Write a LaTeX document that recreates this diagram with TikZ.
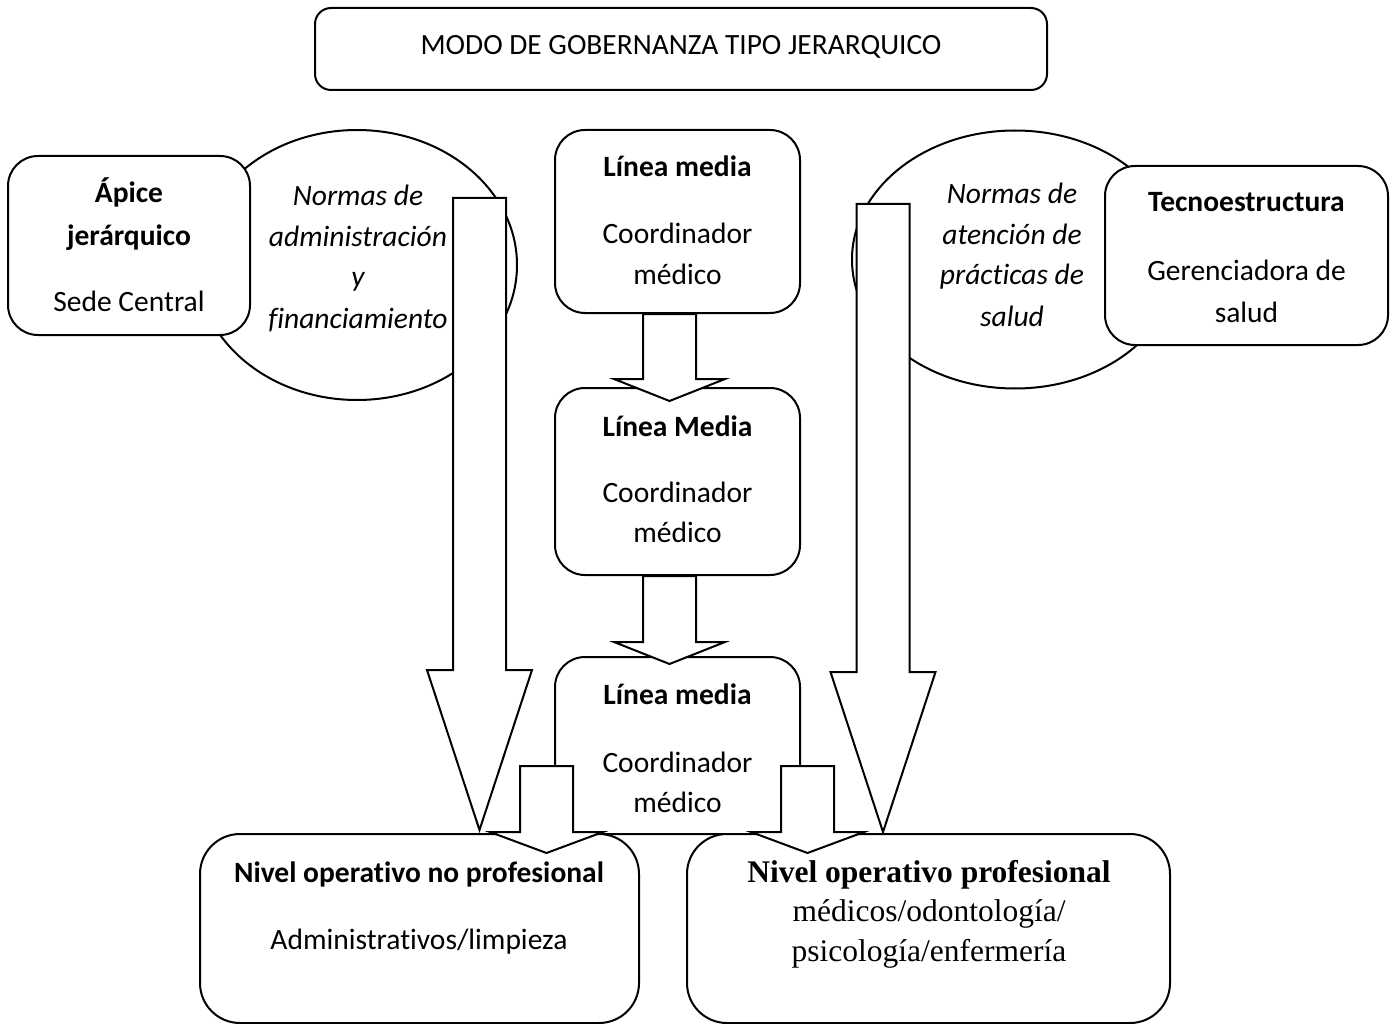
\documentclass[tikz,border=0pt]{standalone}
\usepackage{fontspec}
\setmainfont{Carlito}[Ligatures=CommonOff]
\newfontfamily\bodyserif{Liberation Serif}
\usetikzlibrary{shapes.geometric,calc}

% hollow block arrow pointing down:
% #1 top centre of the shaft, #2 shaft length, #3 head length,
% #4 half shaft width, #5 half head width
\newcommand\downblock[5]{%
  \path[blockarrow] ($(#1)+(-#4,0)$) -- ++(0,#2) -- ++({#4-#5},0)
    -- ++(#5,#3) -- ++(#5,-#3) -- ++({#4-#5},0) -- ++(0,-#2) -- cycle;}

\begin{document}
\begin{tikzpicture}[x=1pt,y=-1pt,line width=2pt,
  box/.style={draw,fill=white,rounded corners=30pt,inner sep=0pt},
  oval/.style={draw,ellipse,inner sep=0pt},
  txt/.style={anchor=base,inner sep=0pt,font=\fontsize{29.5}{35}\selectfont},
  btxt/.style={txt,font=\fontsize{29.5}{35}\selectfont\bfseries},
  itxt/.style={txt,font=\fontsize{29.5}{35}\selectfont\itshape},
  stxt/.style={anchor=base,inner sep=0pt,font=\fontsize{31.5}{38}\selectfont\bodyserif},
  sbtxt/.style={stxt,font=\fontsize{31.5}{38}\selectfont\bodyserif\bfseries},
  blockarrow/.style={draw,fill=white,line join=miter}]

\useasboundingbox (0,0) rectangle (1397,1024);

% title
\node[box,rounded corners=16pt,minimum width=732,minimum height=82] (title) at (681,49) {};
\node[txt,font=\fontsize{29.4}{35}\selectfont] (titletext) at (681,55) {MODO DE GOBERNANZA TIPO JERARQUICO};

% norm ellipses behind the side boxes
\node[oval,minimum width=320,minimum height=270] (normsL) at (357,265) {};
\node[oval,minimum width=326,minimum height=258] (normsR) at (1015,259.5) {};

% strategic apex
\node[box,minimum width=242,minimum height=179] (apex) at (129,245.5) {};
\node[btxt] (apex1) at (129,203) {Ápice};
\node[btxt] (apex2) at (129,246) {jerárquico};
\node[txt]  (apex3) at (129,312) {Sede Central};

% technostructure
\node[box,minimum width=283,minimum height=179] (tecno) at (1246.5,255.5) {};
\node[btxt] (tecno1) at (1246.5,212) {Tecnoestructura};
\node[txt]  (tecno2) at (1246.5,280) {Gerenciadora de};
\node[txt]  (tecno3) at (1246.5,322) {salud};

% norm texts
\node[itxt] (nl1) at (358,206) {Normas de};
\node[itxt] (nl2) at (358,247) {administración};
\node[itxt] (nl3) at (358,287) {y};
\node[itxt] (nl4) at (358,328) {financiamiento};
\node[itxt] (nr1) at (1012,204) {Normas de};
\node[itxt] (nr2) at (1012,245) {atención de};
\node[itxt] (nr3) at (1012,285) {prácticas de};
\node[itxt] (nr4) at (1012,326) {salud};

% large arrows carrying the norms down
\coordinate (bigL) at (479.5,198);
\coordinate (bigR) at (883,204);
\downblock{bigL}{472}{160}{26.5}{52.5}
\downblock{bigR}{468}{160}{26.5}{52.5}

% middle line
\node[box,minimum width=245,minimum height=183] (lm1) at (677.5,221.5) {};
\node[btxt] (lm1a) at (677.5,177) {Línea media};
\node[txt]  (lm1b) at (677.5,244) {Coordinador};
\node[txt]  (lm1c) at (677.5,284) {médico};

\node[box,minimum width=245,minimum height=187] (lm2) at (677.5,481.5) {};
\node[btxt] (lm2a) at (677.5,436) {Línea Media};
\node[txt]  (lm2b) at (677.5,502) {Coordinador};
\node[txt]  (lm2c) at (677.5,542) {médico};

\node[box,minimum width=245,minimum height=177] (lm3) at (677.5,745.5) {};

\coordinate (mid1) at ($(lm1.south)+(-8,0)$);
\coordinate (mid2) at ($(lm2.south)+(-8,0)$);
\downblock{mid1}{65}{22}{26.5}{55.5}
\downblock{mid2}{66}{22}{26.5}{55.5}

% operating core
\node[box,rounded corners=40pt,minimum width=439,minimum height=189] (nonprof) at (419.5,928.5) {};
\node[box,rounded corners=40pt,minimum width=483,minimum height=189] (prof) at (928.5,928.5) {};

\coordinate (smallL) at (546.5,766);
\coordinate (smallR) at (807.5,766);
\downblock{smallL}{66}{21}{26.5}{56.5}
\downblock{smallR}{66}{21}{26.5}{56.5}

\node[btxt] (lm3a) at (677.5,704) {Línea media};
\node[txt]  (lm3b) at (677.5,772) {Coordinador};
\node[txt]  (lm3c) at (677.5,812) {médico};

\node[btxt] (np1) at (419,882) {Nivel operativo no profesional};
\node[txt]  (np2) at (419,949) {Administrativos/limpieza};

\node[sbtxt] (pr1) at (929,882) {Nivel operativo profesional};
\node[stxt]  (pr2) at (929,921) {médicos/odontología/};
\node[stxt]  (pr3) at (929,961) {psicología/enfermería};

\end{tikzpicture}
\end{document}
